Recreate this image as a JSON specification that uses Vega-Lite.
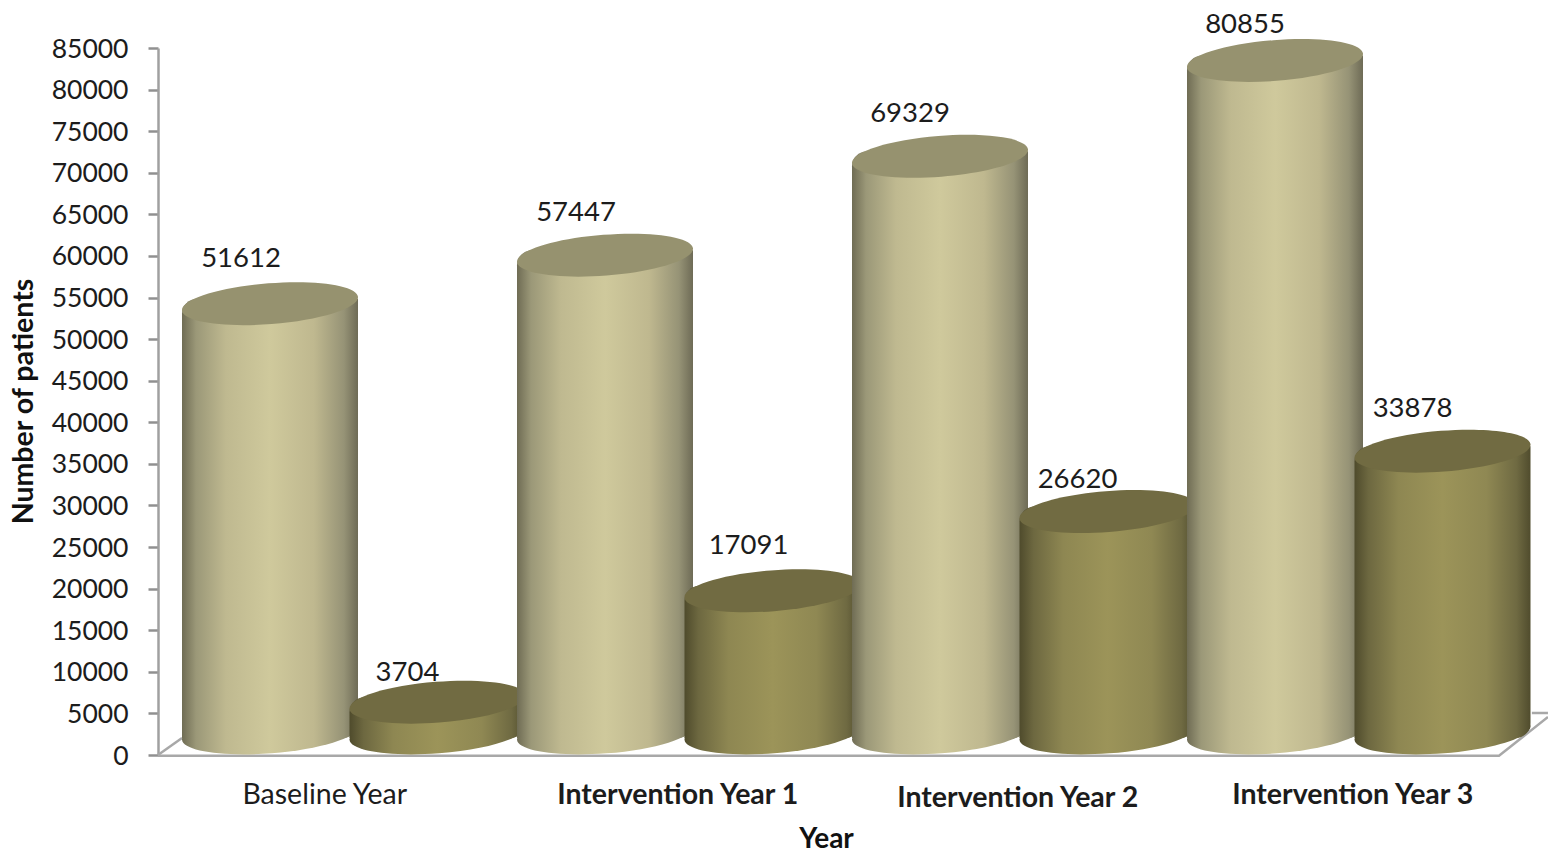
{
"$schema":"https://vega.github.io/schema/vega-lite/v6.json",
"width":1341,"height":707,
"autosize":{"type":"none"},
"padding":{"left":158,"top":48,"right":49,"bottom":98},
"background":"white",
"config":{"view":{"stroke":null},"font":"Lato"},
"datasets":{
"cyl":[
{"year":"Baseline Year","series":"Series 1","patients":51612,"i":1},
{"year":"Baseline Year","series":"Series 2","patients":3704,"i":2},
{"year":"Intervention Year 1","series":"Series 1","patients":57447,"i":3},
{"year":"Intervention Year 1","series":"Series 2","patients":17091,"i":4},
{"year":"Intervention Year 2","series":"Series 1","patients":69329,"i":5},
{"year":"Intervention Year 2","series":"Series 2","patients":26620,"i":6},
{"year":"Intervention Year 3","series":"Series 1","patients":80855,"i":7},
{"year":"Intervention Year 3","series":"Series 2","patients":33878,"i":8}],
"floor":[
{"part":"front","k":1,"u":0,"v":-100},{"part":"front","k":2,"u":4,"v":-100},{"part":"front","k":3,"u":4.146,"v":4570},
{"part":"back","k":1,"u":4.098,"v":5050},{"part":"back","k":2,"u":4.146,"v":5050},
{"part":"side","k":1,"u":0,"v":0},{"part":"side","k":2,"u":0.0716,"v":2044}]
},
"resolve":{"scale":{"x":"independent","y":"independent"}},
"layer":[
{"data":{"name":"floor"},
"mark":{"type":"line","color":"#A8A8A8","strokeWidth":2.5,"clip":false},
"encoding":{
"x":{"field":"u","type":"quantitative","scale":{"domain":[0,4],"nice":false,"zero":false},"axis":null},
"y":{"field":"v","type":"quantitative","scale":{"domain":[0,85000],"nice":false},
"axis":{"title":"Number of patients","values":[0,5000,10000,15000,20000,25000,30000,35000,40000,45000,50000,55000,60000,65000,70000,75000,80000,85000],"format":"d","grid":false,"domainColor":"#A0A0A0","domainWidth":2.5,"tickColor":"#909090","tickWidth":2.5,"tickSize":10,"labelFont":"Lato","labelFontSize":26.5,"labelColor":"#1c1c1c","labelPadding":20,"labelOffset":1,"titleFont":"Lato","titleFontSize":28.5,"titleFontWeight":"bold","titleColor":"#111111","titleX":-120,"titleY":353}},
"detail":{"field":"part"},
"order":{"field":"k"}}},
{"data":{"name":"cyl"},
"encoding":{
"x":{"field":"year","type":"nominal","sort":null,"scale":{"type":"band","paddingInner":0,"paddingOuter":0,"range":[28.25,1368.25]},
"axis":{"title":"Year","orient":"bottom","domain":false,"ticks":false,"labelAngle":0,"labelFont":"Lato","labelFontSize":28.5,"labelColor":"#1c1c1c","labelPadding":25,"labelLimit":500,"labelOverlap":false,"titleFont":"Lato","titleFontSize":28,"titleFontWeight":"bold","titleColor":"#111111","titleX":668,"titleY":84,"titleBaseline":"middle",
"encoding":{"labels":{
"dx":{"condition":[{"test":"datum.value=='Baseline Year'","value":-29},{"test":"datum.value=='Intervention Year 1'","value":-11}],"value":-6},
"dy":{"condition":{"test":"datum.value=='Intervention Year 2'","value":3},"value":0},
"fontWeight":{"condition":{"test":"datum.value=='Baseline Year'","value":"normal"},"value":"bold"}}}}},
"xOffset":{"field":"series","type":"nominal","scale":{"domain":["Series 1","Series 2"],"paddingInner":0,"paddingOuter":0}},
"y":{"field":"patients","type":"quantitative","scale":{"domain":[0,85000],"nice":false,"range":[685,-22]},"axis":null}
},
"layer":[
{"transform":[{"filter":"datum.i==1"}],"layer":[
{"mark":{"type":"point","filled":true,"opacity":1,"size":30976,"shape":"M-1,0.078A1.003,0.232,-4.45,1,1,1,-0.078A1.003,0.232,-4.45,1,1,-1,0.078Z","fill":{"gradient":"linear","x1":0,"y1":0,"x2":1,"y2":0,"stops":[{"offset":0,"color":"#6F6C54"},{"offset":0.08,"color":"#9B9878"},{"offset":0.25,"color":"#BFB990"},{"offset":0.5,"color":"#CFC99C"},{"offset":0.75,"color":"#BFB88F"},{"offset":0.92,"color":"#969376"},{"offset":1,"color":"#6E6B56"}]}},"encoding":{"y":{"datum":0,"type":"quantitative"}}},
{"mark":{"type":"bar","width":176,"yOffset":-5,"cornerRadiusTopLeft":15,"cornerRadiusBottomRight":15,"fill":{"gradient":"linear","x1":0,"y1":0,"x2":1,"y2":0,"stops":[{"offset":0,"color":"#6F6C54"},{"offset":0.08,"color":"#9B9878"},{"offset":0.25,"color":"#BFB990"},{"offset":0.5,"color":"#CFC99C"},{"offset":0.75,"color":"#BFB88F"},{"offset":0.92,"color":"#969376"},{"offset":1,"color":"#6E6B56"}]}},"encoding":{"y2":{"datum":-601}}},
{"mark":{"type":"point","filled":true,"opacity":1,"size":30976,"shape":"M-1,0.078A1.003,0.232,-4.45,1,1,1,-0.078A1.003,0.232,-4.45,1,1,-1,0.078Z","fill":"#96926F"}},
{"mark":{"type":"text","font":"Lato","fontSize":27.5,"color":"#1c1c1c","baseline":"middle","dx":-29,"dy":-44.5},"encoding":{"text":{"field":"patients","type":"quantitative","format":"d"}}}
]},
{"transform":[{"filter":"datum.i==2"}],"layer":[
{"mark":{"type":"point","filled":true,"opacity":1,"size":30976,"shape":"M-1,0.078A1.003,0.232,-4.45,1,1,1,-0.078A1.003,0.232,-4.45,1,1,-1,0.078Z","fill":{"gradient":"linear","x1":0,"y1":0,"x2":1,"y2":0,"stops":[{"offset":0,"color":"#4F4B2C"},{"offset":0.08,"color":"#6D6840"},{"offset":0.25,"color":"#8E8752"},{"offset":0.5,"color":"#9C9459"},{"offset":0.75,"color":"#8F8853"},{"offset":0.92,"color":"#6F6A42"},{"offset":1,"color":"#504C2D"}]}},"encoding":{"y":{"datum":0,"type":"quantitative"}}},
{"mark":{"type":"bar","width":176,"yOffset":-5,"cornerRadiusTopLeft":15,"cornerRadiusBottomRight":15,"fill":{"gradient":"linear","x1":0,"y1":0,"x2":1,"y2":0,"stops":[{"offset":0,"color":"#4F4B2C"},{"offset":0.08,"color":"#6D6840"},{"offset":0.25,"color":"#8E8752"},{"offset":0.5,"color":"#9C9459"},{"offset":0.75,"color":"#8F8853"},{"offset":0.92,"color":"#6F6A42"},{"offset":1,"color":"#504C2D"}]}},"encoding":{"y2":{"datum":-601}}},
{"mark":{"type":"point","filled":true,"opacity":1,"size":30976,"shape":"M-1,0.078A1.003,0.232,-4.45,1,1,1,-0.078A1.003,0.232,-4.45,1,1,-1,0.078Z","fill":"#716B42"}},
{"mark":{"type":"text","font":"Lato","fontSize":27.5,"color":"#1c1c1c","baseline":"middle","dx":-30,"dy":-29},"encoding":{"text":{"field":"patients","type":"quantitative","format":"d"}}}
]},
{"transform":[{"filter":"datum.i==3"}],"layer":[
{"mark":{"type":"point","filled":true,"opacity":1,"size":30976,"shape":"M-1,0.078A1.003,0.232,-4.45,1,1,1,-0.078A1.003,0.232,-4.45,1,1,-1,0.078Z","fill":{"gradient":"linear","x1":0,"y1":0,"x2":1,"y2":0,"stops":[{"offset":0,"color":"#6F6C54"},{"offset":0.08,"color":"#9B9878"},{"offset":0.25,"color":"#BFB990"},{"offset":0.5,"color":"#CFC99C"},{"offset":0.75,"color":"#BFB88F"},{"offset":0.92,"color":"#969376"},{"offset":1,"color":"#6E6B56"}]}},"encoding":{"y":{"datum":0,"type":"quantitative"}}},
{"mark":{"type":"bar","width":176,"yOffset":-5,"cornerRadiusTopLeft":15,"cornerRadiusBottomRight":15,"fill":{"gradient":"linear","x1":0,"y1":0,"x2":1,"y2":0,"stops":[{"offset":0,"color":"#6F6C54"},{"offset":0.08,"color":"#9B9878"},{"offset":0.25,"color":"#BFB990"},{"offset":0.5,"color":"#CFC99C"},{"offset":0.75,"color":"#BFB88F"},{"offset":0.92,"color":"#969376"},{"offset":1,"color":"#6E6B56"}]}},"encoding":{"y2":{"datum":-601}}},
{"mark":{"type":"point","filled":true,"opacity":1,"size":30976,"shape":"M-1,0.078A1.003,0.232,-4.45,1,1,1,-0.078A1.003,0.232,-4.45,1,1,-1,0.078Z","fill":"#96926F"}},
{"mark":{"type":"text","font":"Lato","fontSize":27.5,"color":"#1c1c1c","baseline":"middle","dx":-29,"dy":-42},"encoding":{"text":{"field":"patients","type":"quantitative","format":"d"}}}
]},
{"transform":[{"filter":"datum.i==4"}],"layer":[
{"mark":{"type":"point","filled":true,"opacity":1,"size":30976,"shape":"M-1,0.078A1.003,0.232,-4.45,1,1,1,-0.078A1.003,0.232,-4.45,1,1,-1,0.078Z","fill":{"gradient":"linear","x1":0,"y1":0,"x2":1,"y2":0,"stops":[{"offset":0,"color":"#4F4B2C"},{"offset":0.08,"color":"#6D6840"},{"offset":0.25,"color":"#8E8752"},{"offset":0.5,"color":"#9C9459"},{"offset":0.75,"color":"#8F8853"},{"offset":0.92,"color":"#6F6A42"},{"offset":1,"color":"#504C2D"}]}},"encoding":{"y":{"datum":0,"type":"quantitative"}}},
{"mark":{"type":"bar","width":176,"yOffset":-5,"cornerRadiusTopLeft":15,"cornerRadiusBottomRight":15,"fill":{"gradient":"linear","x1":0,"y1":0,"x2":1,"y2":0,"stops":[{"offset":0,"color":"#4F4B2C"},{"offset":0.08,"color":"#6D6840"},{"offset":0.25,"color":"#8E8752"},{"offset":0.5,"color":"#9C9459"},{"offset":0.75,"color":"#8F8853"},{"offset":0.92,"color":"#6F6A42"},{"offset":1,"color":"#504C2D"}]}},"encoding":{"y2":{"datum":-601}}},
{"mark":{"type":"point","filled":true,"opacity":1,"size":30976,"shape":"M-1,0.078A1.003,0.232,-4.45,1,1,1,-0.078A1.003,0.232,-4.45,1,1,-1,0.078Z","fill":"#716B42"}},
{"mark":{"type":"text","font":"Lato","fontSize":27.5,"color":"#1c1c1c","baseline":"middle","dx":-24,"dy":-45},"encoding":{"text":{"field":"patients","type":"quantitative","format":"d"}}}
]},
{"transform":[{"filter":"datum.i==5"}],"layer":[
{"mark":{"type":"point","filled":true,"opacity":1,"size":30976,"shape":"M-1,0.078A1.003,0.232,-4.45,1,1,1,-0.078A1.003,0.232,-4.45,1,1,-1,0.078Z","fill":{"gradient":"linear","x1":0,"y1":0,"x2":1,"y2":0,"stops":[{"offset":0,"color":"#6F6C54"},{"offset":0.08,"color":"#9B9878"},{"offset":0.25,"color":"#BFB990"},{"offset":0.5,"color":"#CFC99C"},{"offset":0.75,"color":"#BFB88F"},{"offset":0.92,"color":"#969376"},{"offset":1,"color":"#6E6B56"}]}},"encoding":{"y":{"datum":0,"type":"quantitative"}}},
{"mark":{"type":"bar","width":176,"yOffset":-5,"cornerRadiusTopLeft":15,"cornerRadiusBottomRight":15,"fill":{"gradient":"linear","x1":0,"y1":0,"x2":1,"y2":0,"stops":[{"offset":0,"color":"#6F6C54"},{"offset":0.08,"color":"#9B9878"},{"offset":0.25,"color":"#BFB990"},{"offset":0.5,"color":"#CFC99C"},{"offset":0.75,"color":"#BFB88F"},{"offset":0.92,"color":"#969376"},{"offset":1,"color":"#6E6B56"}]}},"encoding":{"y2":{"datum":-601}}},
{"mark":{"type":"point","filled":true,"opacity":1,"size":30976,"shape":"M-1,0.078A1.003,0.232,-4.45,1,1,1,-0.078A1.003,0.232,-4.45,1,1,-1,0.078Z","fill":"#96926F"}},
{"mark":{"type":"text","font":"Lato","fontSize":27.5,"color":"#1c1c1c","baseline":"middle","dx":-30,"dy":-42},"encoding":{"text":{"field":"patients","type":"quantitative","format":"d"}}}
]},
{"transform":[{"filter":"datum.i==6"}],"layer":[
{"mark":{"type":"point","filled":true,"opacity":1,"size":30976,"shape":"M-1,0.078A1.003,0.232,-4.45,1,1,1,-0.078A1.003,0.232,-4.45,1,1,-1,0.078Z","fill":{"gradient":"linear","x1":0,"y1":0,"x2":1,"y2":0,"stops":[{"offset":0,"color":"#4F4B2C"},{"offset":0.08,"color":"#6D6840"},{"offset":0.25,"color":"#8E8752"},{"offset":0.5,"color":"#9C9459"},{"offset":0.75,"color":"#8F8853"},{"offset":0.92,"color":"#6F6A42"},{"offset":1,"color":"#504C2D"}]}},"encoding":{"y":{"datum":0,"type":"quantitative"}}},
{"mark":{"type":"bar","width":176,"yOffset":-5,"cornerRadiusTopLeft":15,"cornerRadiusBottomRight":15,"fill":{"gradient":"linear","x1":0,"y1":0,"x2":1,"y2":0,"stops":[{"offset":0,"color":"#4F4B2C"},{"offset":0.08,"color":"#6D6840"},{"offset":0.25,"color":"#8E8752"},{"offset":0.5,"color":"#9C9459"},{"offset":0.75,"color":"#8F8853"},{"offset":0.92,"color":"#6F6A42"},{"offset":1,"color":"#504C2D"}]}},"encoding":{"y2":{"datum":-601}}},
{"mark":{"type":"point","filled":true,"opacity":1,"size":30976,"shape":"M-1,0.078A1.003,0.232,-4.45,1,1,1,-0.078A1.003,0.232,-4.45,1,1,-1,0.078Z","fill":"#716B42"}},
{"mark":{"type":"text","font":"Lato","fontSize":27.5,"color":"#1c1c1c","baseline":"middle","dx":-30,"dy":-32},"encoding":{"text":{"field":"patients","type":"quantitative","format":"d"}}}
]},
{"transform":[{"filter":"datum.i==7"}],"layer":[
{"mark":{"type":"point","filled":true,"opacity":1,"size":30976,"shape":"M-1,0.078A1.003,0.232,-4.45,1,1,1,-0.078A1.003,0.232,-4.45,1,1,-1,0.078Z","fill":{"gradient":"linear","x1":0,"y1":0,"x2":1,"y2":0,"stops":[{"offset":0,"color":"#6F6C54"},{"offset":0.08,"color":"#9B9878"},{"offset":0.25,"color":"#BFB990"},{"offset":0.5,"color":"#CFC99C"},{"offset":0.75,"color":"#BFB88F"},{"offset":0.92,"color":"#969376"},{"offset":1,"color":"#6E6B56"}]}},"encoding":{"y":{"datum":0,"type":"quantitative"}}},
{"mark":{"type":"bar","width":176,"yOffset":-5,"cornerRadiusTopLeft":15,"cornerRadiusBottomRight":15,"fill":{"gradient":"linear","x1":0,"y1":0,"x2":1,"y2":0,"stops":[{"offset":0,"color":"#6F6C54"},{"offset":0.08,"color":"#9B9878"},{"offset":0.25,"color":"#BFB990"},{"offset":0.5,"color":"#CFC99C"},{"offset":0.75,"color":"#BFB88F"},{"offset":0.92,"color":"#969376"},{"offset":1,"color":"#6E6B56"}]}},"encoding":{"y2":{"datum":-601}}},
{"mark":{"type":"point","filled":true,"opacity":1,"size":30976,"shape":"M-1,0.078A1.003,0.232,-4.45,1,1,1,-0.078A1.003,0.232,-4.45,1,1,-1,0.078Z","fill":"#96926F"}},
{"mark":{"type":"text","font":"Lato","fontSize":27.5,"color":"#1c1c1c","baseline":"middle","dx":-30,"dy":-35},"encoding":{"text":{"field":"patients","type":"quantitative","format":"d"}}}
]},
{"transform":[{"filter":"datum.i==8"}],"layer":[
{"mark":{"type":"point","filled":true,"opacity":1,"size":30976,"shape":"M-1,0.078A1.003,0.232,-4.45,1,1,1,-0.078A1.003,0.232,-4.45,1,1,-1,0.078Z","fill":{"gradient":"linear","x1":0,"y1":0,"x2":1,"y2":0,"stops":[{"offset":0,"color":"#4F4B2C"},{"offset":0.08,"color":"#6D6840"},{"offset":0.25,"color":"#8E8752"},{"offset":0.5,"color":"#9C9459"},{"offset":0.75,"color":"#8F8853"},{"offset":0.92,"color":"#6F6A42"},{"offset":1,"color":"#504C2D"}]}},"encoding":{"y":{"datum":0,"type":"quantitative"}}},
{"mark":{"type":"bar","width":176,"yOffset":-5,"cornerRadiusTopLeft":15,"cornerRadiusBottomRight":15,"fill":{"gradient":"linear","x1":0,"y1":0,"x2":1,"y2":0,"stops":[{"offset":0,"color":"#4F4B2C"},{"offset":0.08,"color":"#6D6840"},{"offset":0.25,"color":"#8E8752"},{"offset":0.5,"color":"#9C9459"},{"offset":0.75,"color":"#8F8853"},{"offset":0.92,"color":"#6F6A42"},{"offset":1,"color":"#504C2D"}]}},"encoding":{"y2":{"datum":-601}}},
{"mark":{"type":"point","filled":true,"opacity":1,"size":30976,"shape":"M-1,0.078A1.003,0.232,-4.45,1,1,1,-0.078A1.003,0.232,-4.45,1,1,-1,0.078Z","fill":"#716B42"}},
{"mark":{"type":"text","font":"Lato","fontSize":27.5,"color":"#1c1c1c","baseline":"middle","dx":-30,"dy":-42},"encoding":{"text":{"field":"patients","type":"quantitative","format":"d"}}}
]}
]}
]}
